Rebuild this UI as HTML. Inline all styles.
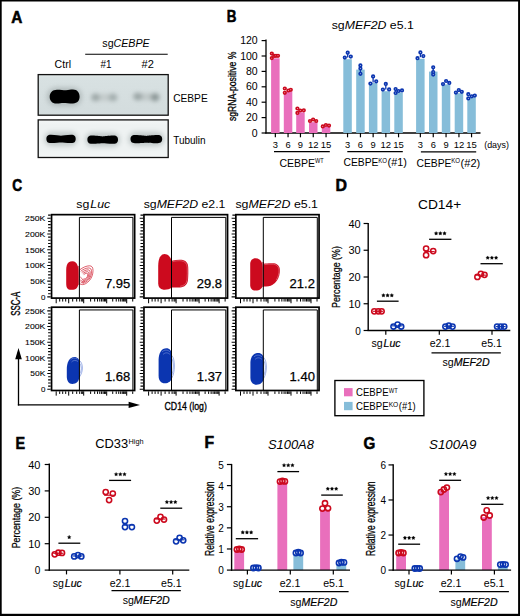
<!DOCTYPE html>
<html><head><meta charset="utf-8"><title>Figure</title>
<style>
html,body{margin:0;padding:0;background:#fff;}
body{width:520px;height:616px;overflow:hidden;}
svg{display:block;}
text{font-family:"Liberation Sans", sans-serif;}
</style></head>
<body>
<svg width="520" height="616" viewBox="0 0 520 616" font-family='"Liberation Sans", sans-serif'>
<rect width="520" height="616" fill="#fff"/>
<rect x="0" y="0" width="520" height="1.5" fill="#000"/>
<rect x="0" y="0" width="1.7" height="616" fill="#000"/>
<rect x="518.1" y="0" width="1.9" height="616" fill="#000"/>
<rect x="0" y="613.8" width="520" height="2.2" fill="#000"/>
<text x="11.2" y="22.6" font-size="15.8" font-weight="bold" textLength="11.1" lengthAdjust="spacingAndGlyphs" stroke="#000" stroke-width="0.55">A</text>
<text x="226.8" y="22.3" font-size="15.8" font-weight="bold" textLength="9.7" lengthAdjust="spacingAndGlyphs" stroke="#000" stroke-width="0.55">B</text>
<text x="12.3" y="190.9" font-size="15.8" font-weight="bold" textLength="9.9" lengthAdjust="spacingAndGlyphs" stroke="#000" stroke-width="0.55">C</text>
<text x="335.4" y="191.2" font-size="15.8" font-weight="bold" textLength="11.5" lengthAdjust="spacingAndGlyphs" stroke="#000" stroke-width="0.55">D</text>
<text x="15.4" y="448.8" font-size="15.8" font-weight="bold" textLength="9.6" lengthAdjust="spacingAndGlyphs" stroke="#000" stroke-width="0.55">E</text>
<text x="204.5" y="447.7" font-size="15.8" font-weight="bold" textLength="9.6" lengthAdjust="spacingAndGlyphs" stroke="#000" stroke-width="0.55">F</text>
<text x="363.5" y="448.6" font-size="15.8" font-weight="bold" textLength="11.8" lengthAdjust="spacingAndGlyphs" stroke="#000" stroke-width="0.55">G</text>
<text x="102.3" y="47" font-size="10.5" textLength="47.4" lengthAdjust="spacingAndGlyphs">sg<tspan font-style="italic">CEBPE</tspan></text>
<line x1="85.2" y1="54.3" x2="167.7" y2="54.3" stroke="#000" stroke-width="1.1"/>
<text x="54.6" y="67.5" font-size="10.2" textLength="16.4" lengthAdjust="spacingAndGlyphs">Ctrl</text>
<text x="100.5" y="67.6" font-size="10.2" textLength="11.0" lengthAdjust="spacingAndGlyphs">#1</text>
<text x="141.5" y="67.6" font-size="10.2" textLength="12.3" lengthAdjust="spacingAndGlyphs">#2</text>
<defs>
<linearGradient id="blotbg" x1="0" y1="0" x2="0" y2="1">
<stop offset="0" stop-color="#e2e9e9"/><stop offset="0.08" stop-color="#d8e1e2"/><stop offset="1" stop-color="#d3dcdd"/>
</linearGradient>
<filter id="blur1" x="-30%" y="-50%" width="160%" height="200%"><feGaussianBlur stdDeviation="0.65"/></filter>
<filter id="blur3" x="-50%" y="-80%" width="200%" height="260%"><feGaussianBlur stdDeviation="2.5"/></filter>
<linearGradient id="blotbg2" x1="0" y1="0" x2="0" y2="1">
<stop offset="0" stop-color="#f3f6f6"/><stop offset="0.15" stop-color="#eef2f2"/><stop offset="0.8" stop-color="#eef2f2"/><stop offset="1" stop-color="#f3f6f6"/>
</linearGradient>
<filter id="blur2" x="-30%" y="-60%" width="160%" height="220%"><feGaussianBlur stdDeviation="2.2"/></filter>
</defs>
<rect x="38.2" y="74.6" width="130" height="40.6" fill="url(#blotbg)" stroke="#111" stroke-width="1.3"/>
<rect x="38.2" y="119.9" width="130" height="37.6" fill="url(#blotbg2)" stroke="#111" stroke-width="1.3"/>
<g filter="url(#blur3)" opacity="0.35"><rect x="47" y="87.5" width="35" height="18.5" rx="9" fill="#6d7777"/></g>
<g filter="url(#blur1)"><path d="M57 89.7 C61 89.7 63 90.3 66 90.3 C69 90.3 70 89.6 73 89.6 C77.5 89.6 79.6 93 79.6 96.6 C79.6 100.5 77.5 103.5 73 103.5 C69 103.5 66 103.0 63.5 103.0 C61 103.0 60 103.6 56.5 103.6 C52 103.6 49.7 100.5 49.7 96.7 C49.7 92.5 52.5 89.7 57 89.7 Z" fill="#030303"/></g>
<g filter="url(#blur2)"><ellipse cx="104.5" cy="97.4" rx="12.5" ry="3.6" fill="#c3cbcb"/><ellipse cx="95.5" cy="97.4" rx="4.4" ry="3.9" fill="#9ea8a8"/><ellipse cx="113.0" cy="97.4" rx="4.4" ry="3.9" fill="#a3adad"/><ellipse cx="146.0" cy="96.9" rx="12.5" ry="3.6" fill="#c0c8c8"/><ellipse cx="137.8" cy="96.6" rx="4.6" ry="3.9" fill="#9aa4a4"/><ellipse cx="155.0" cy="97.2" rx="4.4" ry="4.0" fill="#8c9797"/></g>
<g filter="url(#blur3)" opacity="0.28"><rect x="44.4" y="131.9" width="33.300000000000004" height="14" rx="7" fill="#4a5a5a"/></g>
<g filter="url(#blur1)"><path d="M50.9 134.8 C56.0 134.8 59.0 135.7 61.0 135.7 C63.0 135.7 66.0 134.8 71.2 134.8 C74.7 134.8 75.7 136.7 75.7 138.9 C75.7 141.1 74.7 143.0 71.2 143.0 C66.0 143.0 63.0 142.5 61.0 142.5 C59.0 142.5 56.0 143.0 50.9 143.0 C47.4 143.0 46.4 141.1 46.4 138.9 C46.4 136.7 47.4 134.8 50.9 134.8 Z" fill="#050505"/></g>
<g filter="url(#blur3)" opacity="0.28"><rect x="85.4" y="132.7" width="34.599999999999994" height="14" rx="7" fill="#4a5a5a"/></g>
<g filter="url(#blur1)"><path d="M91.9 135.6 C97.7 135.6 100.7 136.5 102.7 136.5 C104.7 136.5 107.7 135.6 113.5 135.6 C117.0 135.6 118.0 137.5 118.0 139.7 C118.0 141.9 117.0 143.8 113.5 143.8 C107.7 143.8 104.7 143.3 102.7 143.3 C100.7 143.3 97.7 143.8 91.9 143.8 C88.4 143.8 87.4 141.9 87.4 139.7 C87.4 137.5 88.4 135.6 91.9 135.6 Z" fill="#050505"/></g>
<g filter="url(#blur3)" opacity="0.28"><rect x="128.5" y="132.1" width="35.69999999999999" height="14" rx="7" fill="#4a5a5a"/></g>
<g filter="url(#blur1)"><path d="M135.0 135.0 C141.3 135.0 144.3 135.9 146.3 135.9 C148.3 135.9 151.3 135.0 157.7 135.0 C161.2 135.0 162.2 136.9 162.2 139.1 C162.2 141.3 161.2 143.2 157.7 143.2 C151.3 143.2 148.3 142.7 146.3 142.7 C144.3 142.7 141.3 143.2 135.0 143.2 C131.5 143.2 130.5 141.3 130.5 139.1 C130.5 136.9 131.5 135.0 135.0 135.0 Z" fill="#050505"/></g>
<text x="173.2" y="101.6" font-size="10.4" textLength="34.5" lengthAdjust="spacingAndGlyphs">CEBPE</text>
<text x="173.2" y="143.5" font-size="10.4" textLength="32.4" lengthAdjust="spacingAndGlyphs">Tubulin</text>
<text x="331.7" y="28.8" font-size="11.8" textLength="82.1" lengthAdjust="spacingAndGlyphs">sg<tspan font-style="italic">MEF2D</tspan> e5.1</text>
<text transform="translate(235.5,121.1) rotate(-90)" font-size="10.8" stroke="#000" stroke-width="0.3" textLength="69.4" lengthAdjust="spacingAndGlyphs">sgRNA-positive %</text>
<line x1="266.0" y1="39.6" x2="266.0" y2="133.6" stroke="#000" stroke-width="1.3"/>
<line x1="261.6" y1="133.0" x2="266" y2="133.0" stroke="#000" stroke-width="1.2"/>
<text x="257.7" y="136.6" font-size="10.3" text-anchor="end" textLength="5.85" lengthAdjust="spacingAndGlyphs">0</text>
<line x1="261.6" y1="117.6" x2="266" y2="117.6" stroke="#000" stroke-width="1.2"/>
<text x="257.7" y="121.19999999999999" font-size="10.3" text-anchor="end" textLength="11.7" lengthAdjust="spacingAndGlyphs">20</text>
<line x1="261.6" y1="102.2" x2="266" y2="102.2" stroke="#000" stroke-width="1.2"/>
<text x="257.7" y="105.8" font-size="10.3" text-anchor="end" textLength="11.7" lengthAdjust="spacingAndGlyphs">40</text>
<line x1="261.6" y1="86.8" x2="266" y2="86.8" stroke="#000" stroke-width="1.2"/>
<text x="257.7" y="90.39999999999999" font-size="10.3" text-anchor="end" textLength="11.7" lengthAdjust="spacingAndGlyphs">60</text>
<line x1="261.6" y1="71.4" x2="266" y2="71.4" stroke="#000" stroke-width="1.2"/>
<text x="257.7" y="75.0" font-size="10.3" text-anchor="end" textLength="11.7" lengthAdjust="spacingAndGlyphs">80</text>
<line x1="261.6" y1="56.0" x2="266" y2="56.0" stroke="#000" stroke-width="1.2"/>
<text x="257.7" y="59.6" font-size="10.3" text-anchor="end" textLength="17.549999999999997" lengthAdjust="spacingAndGlyphs">100</text>
<line x1="261.6" y1="40.599999999999994" x2="266" y2="40.599999999999994" stroke="#000" stroke-width="1.2"/>
<text x="257.7" y="44.199999999999996" font-size="10.3" text-anchor="end" textLength="17.549999999999997" lengthAdjust="spacingAndGlyphs">120</text>
<line x1="265.4" y1="133.0" x2="480.5" y2="133.0" stroke="#000" stroke-width="1.4"/>
<rect x="271.1" y="58.3" width="8.5" height="74.7" fill="#e96fbc"/>
<line x1="275.35" y1="133.0" x2="275.35" y2="137.3" stroke="#000" stroke-width="1.2"/>
<rect x="283.8" y="91.4" width="8.5" height="41.6" fill="#e96fbc"/>
<line x1="288.05" y1="133.0" x2="288.05" y2="137.3" stroke="#000" stroke-width="1.2"/>
<rect x="296.2" y="112.3" width="8.5" height="20.7" fill="#e96fbc"/>
<line x1="300.45" y1="133.0" x2="300.45" y2="137.3" stroke="#000" stroke-width="1.2"/>
<rect x="309.0" y="122.2" width="8.5" height="10.8" fill="#e96fbc"/>
<line x1="313.25" y1="133.0" x2="313.25" y2="137.3" stroke="#000" stroke-width="1.2"/>
<rect x="321.8" y="126.5" width="8.5" height="6.5" fill="#e96fbc"/>
<line x1="326.05" y1="133.0" x2="326.05" y2="137.3" stroke="#000" stroke-width="1.2"/>
<rect x="343.3" y="59.2" width="8.5" height="73.8" fill="#86bdd9"/>
<line x1="347.55" y1="133.0" x2="347.55" y2="137.3" stroke="#000" stroke-width="1.2"/>
<rect x="356.2" y="69.6" width="8.5" height="63.4" fill="#86bdd9"/>
<line x1="360.45" y1="133.0" x2="360.45" y2="137.3" stroke="#000" stroke-width="1.2"/>
<rect x="368.9" y="83.0" width="8.5" height="50.0" fill="#86bdd9"/>
<line x1="373.15" y1="133.0" x2="373.15" y2="137.3" stroke="#000" stroke-width="1.2"/>
<rect x="381.6" y="91.2" width="8.5" height="41.8" fill="#86bdd9"/>
<line x1="385.85" y1="133.0" x2="385.85" y2="137.3" stroke="#000" stroke-width="1.2"/>
<rect x="394.3" y="92.5" width="8.5" height="40.5" fill="#86bdd9"/>
<line x1="398.55" y1="133.0" x2="398.55" y2="137.3" stroke="#000" stroke-width="1.2"/>
<rect x="416.1" y="58.8" width="8.5" height="74.2" fill="#86bdd9"/>
<line x1="420.35" y1="133.0" x2="420.35" y2="137.3" stroke="#000" stroke-width="1.2"/>
<rect x="429.0" y="71.6" width="8.5" height="61.4" fill="#86bdd9"/>
<line x1="433.25" y1="133.0" x2="433.25" y2="137.3" stroke="#000" stroke-width="1.2"/>
<rect x="441.8" y="84.4" width="8.5" height="48.6" fill="#86bdd9"/>
<line x1="446.05" y1="133.0" x2="446.05" y2="137.3" stroke="#000" stroke-width="1.2"/>
<rect x="454.7" y="93.2" width="8.5" height="39.8" fill="#86bdd9"/>
<line x1="458.95" y1="133.0" x2="458.95" y2="137.3" stroke="#000" stroke-width="1.2"/>
<rect x="467.3" y="97.2" width="8.5" height="35.8" fill="#86bdd9"/>
<line x1="471.55" y1="133.0" x2="471.55" y2="137.3" stroke="#000" stroke-width="1.2"/>
<text x="275.35" y="148.1" font-size="9.8" text-anchor="middle" textLength="5.2" lengthAdjust="spacingAndGlyphs">3</text>
<text x="288.05" y="148.1" font-size="9.8" text-anchor="middle" textLength="5.2" lengthAdjust="spacingAndGlyphs">6</text>
<text x="300.45" y="148.1" font-size="9.8" text-anchor="middle" textLength="5.2" lengthAdjust="spacingAndGlyphs">9</text>
<text x="313.25" y="148.1" font-size="9.8" text-anchor="middle" textLength="10.6" lengthAdjust="spacingAndGlyphs">12</text>
<text x="326.05" y="148.1" font-size="9.8" text-anchor="middle" textLength="10.6" lengthAdjust="spacingAndGlyphs">15</text>
<text x="347.55" y="148.1" font-size="9.8" text-anchor="middle" textLength="5.2" lengthAdjust="spacingAndGlyphs">3</text>
<text x="360.45" y="148.1" font-size="9.8" text-anchor="middle" textLength="5.2" lengthAdjust="spacingAndGlyphs">6</text>
<text x="373.15" y="148.1" font-size="9.8" text-anchor="middle" textLength="5.2" lengthAdjust="spacingAndGlyphs">9</text>
<text x="385.85" y="148.1" font-size="9.8" text-anchor="middle" textLength="10.6" lengthAdjust="spacingAndGlyphs">12</text>
<text x="398.55" y="148.1" font-size="9.8" text-anchor="middle" textLength="10.6" lengthAdjust="spacingAndGlyphs">15</text>
<text x="420.35" y="148.1" font-size="9.8" text-anchor="middle" textLength="5.2" lengthAdjust="spacingAndGlyphs">3</text>
<text x="433.25" y="148.1" font-size="9.8" text-anchor="middle" textLength="5.2" lengthAdjust="spacingAndGlyphs">6</text>
<text x="446.05" y="148.1" font-size="9.8" text-anchor="middle" textLength="5.2" lengthAdjust="spacingAndGlyphs">9</text>
<text x="458.95" y="148.1" font-size="9.8" text-anchor="middle" textLength="10.6" lengthAdjust="spacingAndGlyphs">12</text>
<text x="471.55" y="148.1" font-size="9.8" text-anchor="middle" textLength="10.6" lengthAdjust="spacingAndGlyphs">15</text>
<line x1="274.0" y1="151.6" x2="329.8" y2="151.6" stroke="#000" stroke-width="1.3"/>
<line x1="347.3" y1="151.6" x2="402.8" y2="151.6" stroke="#000" stroke-width="1.3"/>
<line x1="420.9" y1="151.8" x2="476.2" y2="151.8" stroke="#000" stroke-width="1.3"/>
<text x="484.2" y="148.2" font-size="9.8" textLength="24.7" lengthAdjust="spacingAndGlyphs">(days)</text>
<text x="279.4" y="166.6" font-size="10.6" textLength="35.7" lengthAdjust="spacingAndGlyphs">CEBPE</text>
<text x="315.1" y="163.2" font-size="6.8" textLength="8.7" lengthAdjust="spacingAndGlyphs">WT</text>
<text x="343.5" y="166.4" font-size="10.6" textLength="35.0" lengthAdjust="spacingAndGlyphs">CEBPE</text>
<text x="378.3" y="163.2" font-size="6.8" textLength="8.8" lengthAdjust="spacingAndGlyphs">KO</text>
<text x="387.6" y="166.4" font-size="10.6" textLength="19.3" lengthAdjust="spacingAndGlyphs">(#1)</text>
<text x="416.5" y="166.6" font-size="10.6" textLength="35.0" lengthAdjust="spacingAndGlyphs">CEBPE</text>
<text x="451.3" y="163.4" font-size="6.8" textLength="8.8" lengthAdjust="spacingAndGlyphs">KO</text>
<text x="460.6" y="166.6" font-size="10.6" textLength="19.6" lengthAdjust="spacingAndGlyphs">(#2)</text>
<circle cx="271.80" cy="53.60" r="1.3" fill="#fff" stroke="#cc0a1e" stroke-width="1.65"/>
<circle cx="271.80" cy="58.10" r="1.3" fill="#fff" stroke="#cc0a1e" stroke-width="1.65"/>
<circle cx="274.20" cy="55.90" r="1.3" fill="#fff" stroke="#cc0a1e" stroke-width="1.65"/>
<circle cx="276.00" cy="55.80" r="1.3" fill="#fff" stroke="#cc0a1e" stroke-width="1.65"/>
<circle cx="278.00" cy="55.80" r="1.3" fill="#fff" stroke="#cc0a1e" stroke-width="1.65"/>
<circle cx="284.80" cy="88.50" r="1.3" fill="#fff" stroke="#cc0a1e" stroke-width="1.65"/>
<circle cx="284.80" cy="92.80" r="1.3" fill="#fff" stroke="#cc0a1e" stroke-width="1.65"/>
<circle cx="288.40" cy="90.50" r="1.3" fill="#fff" stroke="#cc0a1e" stroke-width="1.65"/>
<circle cx="290.80" cy="89.80" r="1.3" fill="#fff" stroke="#cc0a1e" stroke-width="1.65"/>
<circle cx="297.40" cy="108.50" r="1.3" fill="#fff" stroke="#cc0a1e" stroke-width="1.65"/>
<circle cx="297.40" cy="112.90" r="1.3" fill="#fff" stroke="#cc0a1e" stroke-width="1.65"/>
<circle cx="300.20" cy="110.50" r="1.3" fill="#fff" stroke="#cc0a1e" stroke-width="1.65"/>
<circle cx="303.80" cy="110.30" r="1.3" fill="#fff" stroke="#cc0a1e" stroke-width="1.65"/>
<circle cx="310.00" cy="121.00" r="1.3" fill="#fff" stroke="#cc0a1e" stroke-width="1.65"/>
<circle cx="313.10" cy="119.50" r="1.3" fill="#fff" stroke="#cc0a1e" stroke-width="1.65"/>
<circle cx="316.20" cy="121.00" r="1.3" fill="#fff" stroke="#cc0a1e" stroke-width="1.65"/>
<circle cx="322.80" cy="126.40" r="1.3" fill="#fff" stroke="#cc0a1e" stroke-width="1.65"/>
<circle cx="325.90" cy="125.00" r="1.3" fill="#fff" stroke="#cc0a1e" stroke-width="1.65"/>
<circle cx="329.00" cy="125.60" r="1.3" fill="#fff" stroke="#cc0a1e" stroke-width="1.65"/>
<line x1="347.7" y1="52.7" x2="347.7" y2="57.5" stroke="#0b35b0" stroke-width="1.3"/>
<circle cx="344.80" cy="57.60" r="1.3" fill="#fff" stroke="#0b35b0" stroke-width="1.65"/>
<circle cx="350.80" cy="56.50" r="1.3" fill="#fff" stroke="#0b35b0" stroke-width="1.65"/>
<circle cx="347.70" cy="52.70" r="1.3" fill="#fff" stroke="#0b35b0" stroke-width="1.65"/>
<line x1="360.4" y1="65.4" x2="360.4" y2="73.8" stroke="#0b35b0" stroke-width="1.3"/>
<circle cx="360.40" cy="73.80" r="1.3" fill="#fff" stroke="#0b35b0" stroke-width="1.65"/>
<circle cx="360.40" cy="68.40" r="1.3" fill="#fff" stroke="#0b35b0" stroke-width="1.65"/>
<circle cx="360.40" cy="65.40" r="1.3" fill="#fff" stroke="#0b35b0" stroke-width="1.65"/>
<line x1="373.1" y1="76.4" x2="373.1" y2="82.5" stroke="#0b35b0" stroke-width="1.3"/>
<circle cx="370.40" cy="83.60" r="1.3" fill="#fff" stroke="#0b35b0" stroke-width="1.65"/>
<circle cx="376.20" cy="81.30" r="1.3" fill="#fff" stroke="#0b35b0" stroke-width="1.65"/>
<circle cx="373.10" cy="76.40" r="1.3" fill="#fff" stroke="#0b35b0" stroke-width="1.65"/>
<line x1="385.8" y1="83.9" x2="385.8" y2="89.5" stroke="#0b35b0" stroke-width="1.3"/>
<circle cx="382.90" cy="89.60" r="1.3" fill="#fff" stroke="#0b35b0" stroke-width="1.65"/>
<circle cx="389.10" cy="89.40" r="1.3" fill="#fff" stroke="#0b35b0" stroke-width="1.65"/>
<circle cx="385.80" cy="83.90" r="1.3" fill="#fff" stroke="#0b35b0" stroke-width="1.65"/>
<circle cx="395.60" cy="89.10" r="1.3" fill="#fff" stroke="#0b35b0" stroke-width="1.65"/>
<circle cx="395.60" cy="93.00" r="1.3" fill="#fff" stroke="#0b35b0" stroke-width="1.65"/>
<circle cx="398.60" cy="91.00" r="1.3" fill="#fff" stroke="#0b35b0" stroke-width="1.65"/>
<circle cx="402.00" cy="90.40" r="1.3" fill="#fff" stroke="#0b35b0" stroke-width="1.65"/>
<line x1="420.4" y1="52.4" x2="420.4" y2="57.2" stroke="#0b35b0" stroke-width="1.3"/>
<circle cx="417.50" cy="58.20" r="1.3" fill="#fff" stroke="#0b35b0" stroke-width="1.65"/>
<circle cx="423.30" cy="56.00" r="1.3" fill="#fff" stroke="#0b35b0" stroke-width="1.65"/>
<circle cx="420.40" cy="52.40" r="1.3" fill="#fff" stroke="#0b35b0" stroke-width="1.65"/>
<line x1="433.2" y1="67.3" x2="433.2" y2="74.6" stroke="#0b35b0" stroke-width="1.3"/>
<circle cx="433.20" cy="74.60" r="1.3" fill="#fff" stroke="#0b35b0" stroke-width="1.65"/>
<circle cx="433.20" cy="72.00" r="1.3" fill="#fff" stroke="#0b35b0" stroke-width="1.65"/>
<circle cx="433.20" cy="67.30" r="1.3" fill="#fff" stroke="#0b35b0" stroke-width="1.65"/>
<circle cx="443.00" cy="84.10" r="1.3" fill="#fff" stroke="#0b35b0" stroke-width="1.65"/>
<circle cx="449.30" cy="82.90" r="1.3" fill="#fff" stroke="#0b35b0" stroke-width="1.65"/>
<circle cx="446.10" cy="81.00" r="1.3" fill="#fff" stroke="#0b35b0" stroke-width="1.65"/>
<circle cx="455.90" cy="92.60" r="1.3" fill="#fff" stroke="#0b35b0" stroke-width="1.65"/>
<circle cx="461.80" cy="91.80" r="1.3" fill="#fff" stroke="#0b35b0" stroke-width="1.65"/>
<circle cx="458.80" cy="90.10" r="1.3" fill="#fff" stroke="#0b35b0" stroke-width="1.65"/>
<circle cx="468.30" cy="94.20" r="1.3" fill="#fff" stroke="#0b35b0" stroke-width="1.65"/>
<circle cx="468.30" cy="98.40" r="1.3" fill="#fff" stroke="#0b35b0" stroke-width="1.65"/>
<circle cx="471.80" cy="96.30" r="1.3" fill="#fff" stroke="#0b35b0" stroke-width="1.65"/>
<circle cx="474.80" cy="95.60" r="1.3" fill="#fff" stroke="#0b35b0" stroke-width="1.65"/>
<text x="76.3" y="207.5" font-size="11" textLength="33.9" lengthAdjust="spacingAndGlyphs">sg<tspan dx="0.9" font-style="italic">Luc</tspan></text>
<text x="143.7" y="207.7" font-size="11" textLength="81.7" lengthAdjust="spacingAndGlyphs">sg<tspan font-style="italic">MEF2D</tspan> e2.1</text>
<text x="235.4" y="207.7" font-size="11" textLength="82.6" lengthAdjust="spacingAndGlyphs">sg<tspan font-style="italic">MEF2D</tspan> e5.1</text>
<path d="M72.4 261.2 C75 261.2 76.9 263 77.6 265.5 C78.3 268 78.4 271 78.4 275 L78.4 283 C78.3 286.5 77 288.8 74.5 289.5 C72.5 290.1 69.5 290 68 289 C66.5 287.8 66.2 286 66.2 283 L66.2 270 C66.2 266.5 67 263.5 68.8 262.2 C69.8 261.5 71 261.2 72.4 261.2 Z" fill="#cc0a1e"/>
<path d="M77.2 266 L79.5 266 L79.5 285 L77.2 285 Z" fill="#cc0a1e" opacity="0.55"/>
<path d="M79.5 270 C82.5 267.5 86.5 265.8 89.5 265.8 C92 265.8 93 267.5 93 270.5 C93 274 92 277.5 89.5 280.5 C87 283.2 84.5 284.6 82.5 284.6 C80.8 284.6 79.5 283.8 79.5 283" transform="translate(85.5 276.5) scale(1.0) translate(-85.5 -276.5)" fill="none" stroke="#cc0a1e" stroke-width="0.65" vector-effect="non-scaling-stroke"/>
<path d="M79.5 270 C82.5 267.5 86.5 265.8 89.5 265.8 C92 265.8 93 267.5 93 270.5 C93 274 92 277.5 89.5 280.5 C87 283.2 84.5 284.6 82.5 284.6 C80.8 284.6 79.5 283.8 79.5 283" transform="translate(85.5 276.5) scale(0.8) translate(-85.5 -276.5)" fill="none" stroke="#cc0a1e" stroke-width="0.65" vector-effect="non-scaling-stroke"/>
<path d="M79.5 270 C82.5 267.5 86.5 265.8 89.5 265.8 C92 265.8 93 267.5 93 270.5 C93 274 92 277.5 89.5 280.5 C87 283.2 84.5 284.6 82.5 284.6 C80.8 284.6 79.5 283.8 79.5 283" transform="translate(85.5 276.5) scale(0.62) translate(-85.5 -276.5)" fill="none" stroke="#cc0a1e" stroke-width="0.65" vector-effect="non-scaling-stroke"/>
<path d="M79.5 270 C82.5 267.5 86.5 265.8 89.5 265.8 C92 265.8 93 267.5 93 270.5 C93 274 92 277.5 89.5 280.5 C87 283.2 84.5 284.6 82.5 284.6 C80.8 284.6 79.5 283.8 79.5 283" transform="translate(85.5 276.5) scale(0.45) translate(-85.5 -276.5)" fill="none" stroke="#cc0a1e" stroke-width="0.65" vector-effect="non-scaling-stroke"/>
<path d="M79.5 270 C82.5 267.5 86.5 265.8 89.5 265.8 C92 265.8 93 267.5 93 270.5 C93 274 92 277.5 89.5 280.5 C87 283.2 84.5 284.6 82.5 284.6 C80.8 284.6 79.5 283.8 79.5 283" transform="translate(85.5 276.5) scale(0.3) translate(-85.5 -276.5)" fill="none" stroke="#cc0a1e" stroke-width="0.65" vector-effect="non-scaling-stroke"/>
<path d="M80 276.5 C81.5 278 83 280.5 85 281.5 M80 279.5 C81.5 281 82.5 282.5 84 283.2" fill="none" stroke="#cc0a1e" stroke-width="0.6"/>
<path d="M164.5 254.1 C168.2 254.1 171 257.5 171.9 262 L171.9 287.6 C169.5 289.4 166.5 289.9 163.5 289.7 C160 289.4 158.3 287.2 158.2 283.5 L158.2 266 C158.2 259 160.5 254.1 164.5 254.1 Z" fill="#cc0a1e"/>
<path d="M171.9 260.8 C175 259.9 178.5 259.6 181.5 259.8 C185.5 260.2 188.1 262.8 188.2 267 C188.4 271 188.4 276 188 280 C187.5 284.5 184.5 287.2 180 287.4 C177 287.5 174 287.6 171.9 287.6 Z" fill="#cc0a1e"/>
<path d="M172.5 261.7 C175.5 260.8 178.5 260.6 181.3 260.8 C184.8 261.2 187.1 263.5 187.2 267.2 C187.4 271 187.4 276 187 279.8 C186.6 283.6 184 286 180.2 286.3" fill="none" stroke="#f0a0aa" stroke-width="0.45"/>
<path d="M255.5 258.2 C258.5 258.2 260.9 259.8 261.8 262.5 C262.4 264.5 262.6 267 262.6 270 L262.6 285 C262.4 288.5 260 290.5 255.5 290.5 C252 290.5 250.2 288.5 250.2 285 L250.2 264 C250.2 260.5 252.3 258.2 255.5 258.2 Z" fill="#cc0a1e"/>
<path d="M263.6 263.8 C266.5 263.2 271 263 274 263.3 C277.5 263.8 279.8 266.5 279.9 270 C280 273.5 279 277.5 276.8 280.8 C274.5 284 271.5 285.8 268.5 286.3 C266.8 286.5 265 286.6 263.6 286.6 Z" fill="#cc0a1e"/>
<path d="M264.3 264.6 C267 264.1 271 263.9 273.8 264.2 C276.9 264.7 278.9 267 279 270 C279.1 273.3 278.2 277 276.1 280.2" fill="none" stroke="#f0a0aa" stroke-width="0.45"/>
<path d="M262.5 262 L263.8 262 L263.8 287 L262.5 287 Z" fill="#cc0a1e"/>
<path d="M74.5 357 C77.5 357 79.4 359.5 79.4 362 L79.4 377 C79 381.5 76 383.9 72.3 383.9 C68.8 383.9 66.8 381 66.8 376.5 L66.8 369 C66.8 362 69.5 357 74.5 357 Z" fill="#0b35b0"/>
<path d="M166.5 348.3 C169.5 348.3 171.8 351 171.8 355 L171.8 377 C171.8 381 168.5 383.3 164.8 383.3 C161 383.3 158.6 380.5 158.6 376 L158.6 360 C158.6 353 161.5 348.3 166.5 348.3 Z" fill="#0b35b0"/>
<path d="M258.3 353 C261.5 353 263.7 355.5 263.7 359 L263.7 378 C263.5 382 260.5 384.7 256.6 384.7 C252.8 384.7 250.4 382 250.4 377.5 L250.4 363 C250.4 357 253.5 353 258.3 353 Z" fill="#0b35b0"/>
<path d="M79.4 360.5 C81.5 362 82.4 365 82.4 368 C82.4 371.5 81.2 374.5 79.4 377" fill="none" stroke="#5f7fd8" stroke-width="0.6"/>
<path d="M79.4 363 C80.7 364.5 81.3 366.5 81.3 368.5 C81.3 370.5 80.6 372.5 79.4 374" fill="none" stroke="#5f7fd8" stroke-width="0.6"/>
<path d="M171.8 355.5 C173.5 357.5 174.4 361 174.4 366 C174.4 371 173.5 375 171.8 378" fill="none" stroke="#5f7fd8" stroke-width="0.6"/>
<path d="M171.8 358.5 C172.9 360.5 173.3 363 173.3 366 C173.3 369.5 172.8 372.5 171.8 375" fill="none" stroke="#5f7fd8" stroke-width="0.6"/>
<path d="M263.7 357.5 C265.5 359.5 266.4 363 266.4 367 C266.4 371.5 265.3 375.5 263.7 378.5" fill="none" stroke="#5f7fd8" stroke-width="0.6"/>
<path d="M263.7 360.5 C264.8 362.5 265.3 365 265.3 367.5 C265.3 370.5 264.7 373.5 263.7 375.5" fill="none" stroke="#5f7fd8" stroke-width="0.6"/>
<path d="M70.5 360 C72 357.8 75 357.5 77.5 359 M71.5 362 C73 360 76 360 78 361.5" fill="none" stroke="#8aa0e0" stroke-width="0.5"/>
<path d="M162 352 C164 349.5 168 349.5 170 352 M163 354.5 C165 352.3 168 352.3 170 354.5" fill="none" stroke="#8aa0e0" stroke-width="0.5"/>
<path d="M254 357 C256 354.5 260 354.5 262 357 M255 359.5 C257 357.3 260 357.3 262 359.5" fill="none" stroke="#8aa0e0" stroke-width="0.5"/>
<rect x="51.550000000000004" y="214.65" width="83.1" height="83.44999999999997" fill="none" stroke="#000" stroke-width="1.7"/>
<path d="M48.10 215.16H50.7 M47.30 218.30H50.7 M48.10 221.44H50.7 M48.10 224.58H50.7 M48.10 227.73H50.7 M48.10 230.87H50.7 M47.30 234.01H50.7 M48.10 237.15H50.7 M48.10 240.29H50.7 M48.10 243.44H50.7 M48.10 246.58H50.7 M47.30 249.72H50.7 M48.10 252.86H50.7 M48.10 256.00H50.7 M48.10 259.15H50.7 M48.10 262.29H50.7 M47.30 265.43H50.7 M48.10 268.57H50.7 M48.10 271.71H50.7 M48.10 274.86H50.7 M48.10 278.00H50.7 M47.30 281.14H50.7 M48.10 284.28H50.7 M48.10 287.42H50.7 M48.10 290.57H50.7 M48.10 293.71H50.7 M47.30 296.85H50.7" stroke="#000" stroke-width="1.1"/>
<path d="M56.20 298.95V303.25 M68.70 298.95V303.25 M83.70 298.95V303.25 M106.70 298.95V303.25 M126.70 298.95V303.25 M59.70 298.95V301.55 M62.70 298.95V301.55 M65.70 298.95V301.55 M72.70 298.95V301.55 M76.70 298.95V301.55 M79.70 298.95V301.55 M81.70 298.95V301.55 M82.70 298.95V301.55 M90.62 298.95V301.55 M94.67 298.95V301.55 M97.55 298.95V301.55 M99.78 298.95V301.55 M101.60 298.95V301.55 M103.14 298.95V301.55 M104.47 298.95V301.55 M105.65 298.95V301.55 M112.72 298.95V301.55 M116.24 298.95V301.55 M118.74 298.95V301.55 M120.68 298.95V301.55 M122.26 298.95V301.55 M123.60 298.95V301.55 M124.76 298.95V301.55 M125.78 298.95V301.55 M132.72 298.95V301.55" stroke="#000" stroke-width="1.0"/>
<path d="M79.4 297.95V217.4H132.9V297.95" fill="none" stroke="#000" stroke-width="1.0"/>
<text x="130.2" y="288.2" font-size="12.2" text-anchor="end" textLength="25.3" lengthAdjust="spacingAndGlyphs" stroke="#000" stroke-width="0.25">7.95</text>
<text x="45.300000000000004" y="221.15" font-size="8.0" text-anchor="end" textLength="20.2" lengthAdjust="spacingAndGlyphs" stroke="#000" stroke-width="0.1">250K</text>
<text x="45.300000000000004" y="236.86" font-size="8.0" text-anchor="end" textLength="20.2" lengthAdjust="spacingAndGlyphs" stroke="#000" stroke-width="0.1">200K</text>
<text x="45.300000000000004" y="252.57" font-size="8.0" text-anchor="end" textLength="20.2" lengthAdjust="spacingAndGlyphs" stroke="#000" stroke-width="0.1">150K</text>
<text x="45.300000000000004" y="268.28000000000003" font-size="8.0" text-anchor="end" textLength="20.2" lengthAdjust="spacingAndGlyphs" stroke="#000" stroke-width="0.1">100K</text>
<text x="45.300000000000004" y="283.99" font-size="8.0" text-anchor="end" textLength="15.0" lengthAdjust="spacingAndGlyphs" stroke="#000" stroke-width="0.1">50K</text>
<text x="45.300000000000004" y="299.70000000000005" font-size="8.0" text-anchor="end" textLength="4.4" lengthAdjust="spacingAndGlyphs" stroke="#000" stroke-width="0.1">0</text>
<rect x="143.95" y="214.65" width="83.60000000000001" height="83.44999999999997" fill="none" stroke="#000" stroke-width="1.7"/>
<path d="M140.50 215.16H143.1 M139.70 218.30H143.1 M140.50 221.44H143.1 M140.50 224.58H143.1 M140.50 227.73H143.1 M140.50 230.87H143.1 M139.70 234.01H143.1 M140.50 237.15H143.1 M140.50 240.29H143.1 M140.50 243.44H143.1 M140.50 246.58H143.1 M139.70 249.72H143.1 M140.50 252.86H143.1 M140.50 256.00H143.1 M140.50 259.15H143.1 M140.50 262.29H143.1 M139.70 265.43H143.1 M140.50 268.57H143.1 M140.50 271.71H143.1 M140.50 274.86H143.1 M140.50 278.00H143.1 M139.70 281.14H143.1 M140.50 284.28H143.1 M140.50 287.42H143.1 M140.50 290.57H143.1 M140.50 293.71H143.1 M139.70 296.85H143.1" stroke="#000" stroke-width="1.1"/>
<path d="M148.60 298.95V303.25 M161.10 298.95V303.25 M176.10 298.95V303.25 M199.10 298.95V303.25 M219.10 298.95V303.25 M152.10 298.95V301.55 M155.10 298.95V301.55 M158.10 298.95V301.55 M165.10 298.95V301.55 M169.10 298.95V301.55 M172.10 298.95V301.55 M174.10 298.95V301.55 M175.10 298.95V301.55 M183.02 298.95V301.55 M187.07 298.95V301.55 M189.95 298.95V301.55 M192.18 298.95V301.55 M194.00 298.95V301.55 M195.54 298.95V301.55 M196.87 298.95V301.55 M198.05 298.95V301.55 M205.12 298.95V301.55 M208.64 298.95V301.55 M211.14 298.95V301.55 M213.08 298.95V301.55 M214.66 298.95V301.55 M216.00 298.95V301.55 M217.16 298.95V301.55 M218.18 298.95V301.55 M225.12 298.95V301.55" stroke="#000" stroke-width="1.0"/>
<path d="M171.5 297.95V217.4H225.8V297.95" fill="none" stroke="#000" stroke-width="1.0"/>
<text x="222.1" y="288.2" font-size="12.2" text-anchor="end" textLength="25.3" lengthAdjust="spacingAndGlyphs" stroke="#000" stroke-width="0.25">29.8</text>
<rect x="235.85" y="214.65" width="83.19999999999997" height="83.44999999999997" fill="none" stroke="#000" stroke-width="1.7"/>
<path d="M232.40 215.16H235.0 M231.60 218.30H235.0 M232.40 221.44H235.0 M232.40 224.58H235.0 M232.40 227.73H235.0 M232.40 230.87H235.0 M231.60 234.01H235.0 M232.40 237.15H235.0 M232.40 240.29H235.0 M232.40 243.44H235.0 M232.40 246.58H235.0 M231.60 249.72H235.0 M232.40 252.86H235.0 M232.40 256.00H235.0 M232.40 259.15H235.0 M232.40 262.29H235.0 M231.60 265.43H235.0 M232.40 268.57H235.0 M232.40 271.71H235.0 M232.40 274.86H235.0 M232.40 278.00H235.0 M231.60 281.14H235.0 M232.40 284.28H235.0 M232.40 287.42H235.0 M232.40 290.57H235.0 M232.40 293.71H235.0 M231.60 296.85H235.0" stroke="#000" stroke-width="1.1"/>
<path d="M240.50 298.95V303.25 M253.00 298.95V303.25 M268.00 298.95V303.25 M291.00 298.95V303.25 M311.00 298.95V303.25 M244.00 298.95V301.55 M247.00 298.95V301.55 M250.00 298.95V301.55 M257.00 298.95V301.55 M261.00 298.95V301.55 M264.00 298.95V301.55 M266.00 298.95V301.55 M267.00 298.95V301.55 M274.92 298.95V301.55 M278.97 298.95V301.55 M281.85 298.95V301.55 M284.08 298.95V301.55 M285.90 298.95V301.55 M287.44 298.95V301.55 M288.77 298.95V301.55 M289.95 298.95V301.55 M297.02 298.95V301.55 M300.54 298.95V301.55 M303.04 298.95V301.55 M304.98 298.95V301.55 M306.56 298.95V301.55 M307.90 298.95V301.55 M309.06 298.95V301.55 M310.08 298.95V301.55 M317.02 298.95V301.55" stroke="#000" stroke-width="1.0"/>
<path d="M263.3 297.95V217.4H317.29999999999995V297.95" fill="none" stroke="#000" stroke-width="1.0"/>
<text x="314.9" y="288.2" font-size="12.2" text-anchor="end" textLength="25.3" lengthAdjust="spacingAndGlyphs" stroke="#000" stroke-width="0.25">21.2</text>
<rect x="51.550000000000004" y="307.20000000000005" width="83.1" height="83.3" fill="none" stroke="#000" stroke-width="1.7"/>
<path d="M48.10 307.71H50.7 M47.30 310.85H50.7 M48.10 313.99H50.7 M48.10 317.12H50.7 M48.10 320.26H50.7 M48.10 323.39H50.7 M47.30 326.53H50.7 M48.10 329.67H50.7 M48.10 332.80H50.7 M48.10 335.94H50.7 M48.10 339.07H50.7 M47.30 342.21H50.7 M48.10 345.35H50.7 M48.10 348.48H50.7 M48.10 351.62H50.7 M48.10 354.75H50.7 M47.30 357.89H50.7 M48.10 361.03H50.7 M48.10 364.16H50.7 M48.10 367.30H50.7 M48.10 370.43H50.7 M47.30 373.57H50.7 M48.10 376.71H50.7 M48.10 379.84H50.7 M48.10 382.98H50.7 M48.10 386.11H50.7 M47.30 389.25H50.7" stroke="#000" stroke-width="1.1"/>
<path d="M56.20 391.35V395.65 M68.70 391.35V395.65 M83.70 391.35V395.65 M106.70 391.35V395.65 M126.70 391.35V395.65 M59.70 391.35V393.95 M62.70 391.35V393.95 M65.70 391.35V393.95 M72.70 391.35V393.95 M76.70 391.35V393.95 M79.70 391.35V393.95 M81.70 391.35V393.95 M82.70 391.35V393.95 M90.62 391.35V393.95 M94.67 391.35V393.95 M97.55 391.35V393.95 M99.78 391.35V393.95 M101.60 391.35V393.95 M103.14 391.35V393.95 M104.47 391.35V393.95 M105.65 391.35V393.95 M112.72 391.35V393.95 M116.24 391.35V393.95 M118.74 391.35V393.95 M120.68 391.35V393.95 M122.26 391.35V393.95 M123.60 391.35V393.95 M124.76 391.35V393.95 M125.78 391.35V393.95 M132.72 391.35V393.95" stroke="#000" stroke-width="1.0"/>
<path d="M79.4 390.35V309.95000000000005H132.9V390.35" fill="none" stroke="#000" stroke-width="1.0"/>
<text x="130.2" y="381.2" font-size="12.2" text-anchor="end" textLength="25.3" lengthAdjust="spacingAndGlyphs" stroke="#000" stroke-width="0.25">1.68</text>
<text x="45.300000000000004" y="313.70000000000005" font-size="8.0" text-anchor="end" textLength="20.2" lengthAdjust="spacingAndGlyphs" stroke="#000" stroke-width="0.1">250K</text>
<text x="45.300000000000004" y="329.38000000000005" font-size="8.0" text-anchor="end" textLength="20.2" lengthAdjust="spacingAndGlyphs" stroke="#000" stroke-width="0.1">200K</text>
<text x="45.300000000000004" y="345.06000000000006" font-size="8.0" text-anchor="end" textLength="20.2" lengthAdjust="spacingAndGlyphs" stroke="#000" stroke-width="0.1">150K</text>
<text x="45.300000000000004" y="360.74000000000007" font-size="8.0" text-anchor="end" textLength="20.2" lengthAdjust="spacingAndGlyphs" stroke="#000" stroke-width="0.1">100K</text>
<text x="45.300000000000004" y="376.4200000000001" font-size="8.0" text-anchor="end" textLength="15.0" lengthAdjust="spacingAndGlyphs" stroke="#000" stroke-width="0.1">50K</text>
<text x="45.300000000000004" y="392.1" font-size="8.0" text-anchor="end" textLength="4.4" lengthAdjust="spacingAndGlyphs" stroke="#000" stroke-width="0.1">0</text>
<rect x="143.95" y="307.20000000000005" width="83.60000000000001" height="83.3" fill="none" stroke="#000" stroke-width="1.7"/>
<path d="M140.50 307.71H143.1 M139.70 310.85H143.1 M140.50 313.99H143.1 M140.50 317.12H143.1 M140.50 320.26H143.1 M140.50 323.39H143.1 M139.70 326.53H143.1 M140.50 329.67H143.1 M140.50 332.80H143.1 M140.50 335.94H143.1 M140.50 339.07H143.1 M139.70 342.21H143.1 M140.50 345.35H143.1 M140.50 348.48H143.1 M140.50 351.62H143.1 M140.50 354.75H143.1 M139.70 357.89H143.1 M140.50 361.03H143.1 M140.50 364.16H143.1 M140.50 367.30H143.1 M140.50 370.43H143.1 M139.70 373.57H143.1 M140.50 376.71H143.1 M140.50 379.84H143.1 M140.50 382.98H143.1 M140.50 386.11H143.1 M139.70 389.25H143.1" stroke="#000" stroke-width="1.1"/>
<path d="M148.60 391.35V395.65 M161.10 391.35V395.65 M176.10 391.35V395.65 M199.10 391.35V395.65 M219.10 391.35V395.65 M152.10 391.35V393.95 M155.10 391.35V393.95 M158.10 391.35V393.95 M165.10 391.35V393.95 M169.10 391.35V393.95 M172.10 391.35V393.95 M174.10 391.35V393.95 M175.10 391.35V393.95 M183.02 391.35V393.95 M187.07 391.35V393.95 M189.95 391.35V393.95 M192.18 391.35V393.95 M194.00 391.35V393.95 M195.54 391.35V393.95 M196.87 391.35V393.95 M198.05 391.35V393.95 M205.12 391.35V393.95 M208.64 391.35V393.95 M211.14 391.35V393.95 M213.08 391.35V393.95 M214.66 391.35V393.95 M216.00 391.35V393.95 M217.16 391.35V393.95 M218.18 391.35V393.95 M225.12 391.35V393.95" stroke="#000" stroke-width="1.0"/>
<path d="M171.5 390.35V309.95000000000005H225.8V390.35" fill="none" stroke="#000" stroke-width="1.0"/>
<text x="222.1" y="381.2" font-size="12.2" text-anchor="end" textLength="25.3" lengthAdjust="spacingAndGlyphs" stroke="#000" stroke-width="0.25">1.37</text>
<rect x="235.85" y="307.20000000000005" width="83.19999999999997" height="83.3" fill="none" stroke="#000" stroke-width="1.7"/>
<path d="M232.40 307.71H235.0 M231.60 310.85H235.0 M232.40 313.99H235.0 M232.40 317.12H235.0 M232.40 320.26H235.0 M232.40 323.39H235.0 M231.60 326.53H235.0 M232.40 329.67H235.0 M232.40 332.80H235.0 M232.40 335.94H235.0 M232.40 339.07H235.0 M231.60 342.21H235.0 M232.40 345.35H235.0 M232.40 348.48H235.0 M232.40 351.62H235.0 M232.40 354.75H235.0 M231.60 357.89H235.0 M232.40 361.03H235.0 M232.40 364.16H235.0 M232.40 367.30H235.0 M232.40 370.43H235.0 M231.60 373.57H235.0 M232.40 376.71H235.0 M232.40 379.84H235.0 M232.40 382.98H235.0 M232.40 386.11H235.0 M231.60 389.25H235.0" stroke="#000" stroke-width="1.1"/>
<path d="M240.50 391.35V395.65 M253.00 391.35V395.65 M268.00 391.35V395.65 M291.00 391.35V395.65 M311.00 391.35V395.65 M244.00 391.35V393.95 M247.00 391.35V393.95 M250.00 391.35V393.95 M257.00 391.35V393.95 M261.00 391.35V393.95 M264.00 391.35V393.95 M266.00 391.35V393.95 M267.00 391.35V393.95 M274.92 391.35V393.95 M278.97 391.35V393.95 M281.85 391.35V393.95 M284.08 391.35V393.95 M285.90 391.35V393.95 M287.44 391.35V393.95 M288.77 391.35V393.95 M289.95 391.35V393.95 M297.02 391.35V393.95 M300.54 391.35V393.95 M303.04 391.35V393.95 M304.98 391.35V393.95 M306.56 391.35V393.95 M307.90 391.35V393.95 M309.06 391.35V393.95 M310.08 391.35V393.95 M317.02 391.35V393.95" stroke="#000" stroke-width="1.0"/>
<path d="M263.3 390.35V309.95000000000005H317.29999999999995V390.35" fill="none" stroke="#000" stroke-width="1.0"/>
<text x="314.9" y="381.2" font-size="12.2" text-anchor="end" textLength="25.3" lengthAdjust="spacingAndGlyphs" stroke="#000" stroke-width="0.25">1.40</text>
<text transform="translate(20.0,315.8) rotate(-90)" font-size="12.2" stroke="#000" stroke-width="0.35" textLength="24.0" lengthAdjust="spacingAndGlyphs">SSC-A</text>
<line x1="18.5" y1="405.5" x2="18.5" y2="352" stroke="#000" stroke-width="1.3"/>
<path d="M18.5 348.0 L15.2 359.3 L21.8 359.3 Z" fill="#000"/>
<line x1="17.85" y1="404.9" x2="131" y2="404.9" stroke="#000" stroke-width="1.3"/>
<path d="M140.0 404.9 L128.6 401.7 L128.6 408.1 Z" fill="#000"/>
<text x="164.5" y="410.4" font-size="11.3" stroke="#000" stroke-width="0.35" textLength="42.3" lengthAdjust="spacingAndGlyphs">CD14 (log)</text>
<text x="418.0" y="208.5" font-size="12.0" textLength="43.2" lengthAdjust="spacingAndGlyphs">CD14+</text>
<text transform="translate(340.3,307.9) rotate(-90)" font-size="11.3" stroke="#000" stroke-width="0.25" textLength="61.8" lengthAdjust="spacingAndGlyphs">Percentage (%)</text>
<line x1="368.2" y1="223.0" x2="368.2" y2="331.1" stroke="#000" stroke-width="1.4"/>
<line x1="367.6" y1="330.5" x2="510.3" y2="330.5" stroke="#000" stroke-width="1.4"/>
<line x1="363.6" y1="330.5" x2="368.2" y2="330.5" stroke="#000" stroke-width="1.2"/>
<text x="360.7" y="334.5" font-size="10.0" text-anchor="end">0</text>
<line x1="363.6" y1="303.75" x2="368.2" y2="303.75" stroke="#000" stroke-width="1.2"/>
<text x="360.7" y="307.75" font-size="10.0" text-anchor="end" textLength="12.2" lengthAdjust="spacingAndGlyphs">10</text>
<line x1="363.6" y1="277.0" x2="368.2" y2="277.0" stroke="#000" stroke-width="1.2"/>
<text x="360.7" y="281.0" font-size="10.0" text-anchor="end" textLength="12.2" lengthAdjust="spacingAndGlyphs">20</text>
<line x1="363.6" y1="250.25" x2="368.2" y2="250.25" stroke="#000" stroke-width="1.2"/>
<text x="360.7" y="254.25" font-size="10.0" text-anchor="end" textLength="12.2" lengthAdjust="spacingAndGlyphs">30</text>
<line x1="363.6" y1="223.5" x2="368.2" y2="223.5" stroke="#000" stroke-width="1.2"/>
<text x="360.7" y="227.5" font-size="10.0" text-anchor="end" textLength="12.2" lengthAdjust="spacingAndGlyphs">40</text>
<line x1="385.8" y1="330.5" x2="385.8" y2="334.8" stroke="#000" stroke-width="1.2"/>
<line x1="439.3" y1="330.5" x2="439.3" y2="334.8" stroke="#000" stroke-width="1.2"/>
<line x1="492.0" y1="330.5" x2="492.0" y2="334.8" stroke="#000" stroke-width="1.2"/>
<line x1="372.8" y1="311.3" x2="383.1" y2="311.3" stroke="#cc0a1e" stroke-width="1.1"/>
<line x1="424.6" y1="251.6" x2="434.7" y2="251.6" stroke="#cc0a1e" stroke-width="1.1"/>
<line x1="475.9" y1="275.1666666666667" x2="486.0" y2="275.1666666666667" stroke="#cc0a1e" stroke-width="1.1"/>
<line x1="392.0" y1="325.8333333333333" x2="402.7" y2="325.8333333333333" stroke="#0b35b0" stroke-width="1.1"/>
<line x1="443.9" y1="326.2666666666667" x2="454.0" y2="326.2666666666667" stroke="#0b35b0" stroke-width="1.1"/>
<line x1="495.6" y1="326.6" x2="505.7" y2="326.6" stroke="#0b35b0" stroke-width="1.1"/>
<circle cx="374.30" cy="311.30" r="2.6" fill="none" stroke="#cc0a1e" stroke-width="1.55"/>
<circle cx="378.30" cy="311.30" r="2.6" fill="none" stroke="#cc0a1e" stroke-width="1.55"/>
<circle cx="381.60" cy="311.30" r="2.6" fill="none" stroke="#cc0a1e" stroke-width="1.55"/>
<circle cx="426.10" cy="248.50" r="2.6" fill="none" stroke="#cc0a1e" stroke-width="1.55"/>
<circle cx="426.10" cy="255.20" r="2.6" fill="none" stroke="#cc0a1e" stroke-width="1.55"/>
<circle cx="433.20" cy="251.10" r="2.6" fill="none" stroke="#cc0a1e" stroke-width="1.55"/>
<circle cx="477.40" cy="276.90" r="2.6" fill="none" stroke="#cc0a1e" stroke-width="1.55"/>
<circle cx="480.90" cy="273.80" r="2.6" fill="none" stroke="#cc0a1e" stroke-width="1.55"/>
<circle cx="484.50" cy="274.80" r="2.6" fill="none" stroke="#cc0a1e" stroke-width="1.55"/>
<circle cx="393.50" cy="326.50" r="2.6" fill="none" stroke="#0b35b0" stroke-width="1.55"/>
<circle cx="397.60" cy="324.50" r="2.6" fill="none" stroke="#0b35b0" stroke-width="1.55"/>
<circle cx="401.20" cy="326.50" r="2.6" fill="none" stroke="#0b35b0" stroke-width="1.55"/>
<circle cx="445.40" cy="326.60" r="2.6" fill="none" stroke="#0b35b0" stroke-width="1.55"/>
<circle cx="448.80" cy="325.60" r="2.6" fill="none" stroke="#0b35b0" stroke-width="1.55"/>
<circle cx="452.50" cy="326.60" r="2.6" fill="none" stroke="#0b35b0" stroke-width="1.55"/>
<circle cx="497.10" cy="326.60" r="2.6" fill="none" stroke="#0b35b0" stroke-width="1.55"/>
<circle cx="500.70" cy="326.60" r="2.6" fill="none" stroke="#0b35b0" stroke-width="1.55"/>
<circle cx="504.20" cy="326.60" r="2.6" fill="none" stroke="#0b35b0" stroke-width="1.55"/>
<line x1="376.9" y1="301.2" x2="398.6" y2="301.2" stroke="#000" stroke-width="1.3"/>
<line x1="429.1" y1="239.3" x2="451.4" y2="239.3" stroke="#000" stroke-width="1.3"/>
<line x1="480.5" y1="263.7" x2="502.8" y2="263.7" stroke="#000" stroke-width="1.3"/>
<path d="M383.40 293.55 L383.99 294.59 L385.16 294.83 L384.35 295.71 L384.49 296.90 L383.40 296.40 L382.31 296.90 L382.45 295.71 L381.64 294.83 L382.81 294.59Z M387.60 293.55 L388.19 294.59 L389.36 294.83 L388.55 295.71 L388.69 296.90 L387.60 296.40 L386.51 296.90 L386.65 295.71 L385.84 294.83 L387.01 294.59Z M391.80 293.55 L392.39 294.59 L393.56 294.83 L392.75 295.71 L392.89 296.90 L391.80 296.40 L390.71 296.90 L390.85 295.71 L390.04 294.83 L391.21 294.59Z" fill="#000" stroke="#000" stroke-width="0.35" stroke-linejoin="round"/>
<path d="M436.10 231.55 L436.69 232.59 L437.86 232.83 L437.05 233.71 L437.19 234.90 L436.10 234.40 L435.01 234.90 L435.15 233.71 L434.34 232.83 L435.51 232.59Z M440.30 231.55 L440.89 232.59 L442.06 232.83 L441.25 233.71 L441.39 234.90 L440.30 234.40 L439.21 234.90 L439.35 233.71 L438.54 232.83 L439.71 232.59Z M444.50 231.55 L445.09 232.59 L446.26 232.83 L445.45 233.71 L445.59 234.90 L444.50 234.40 L443.41 234.90 L443.55 233.71 L442.74 232.83 L443.91 232.59Z" fill="#000" stroke="#000" stroke-width="0.35" stroke-linejoin="round"/>
<path d="M487.70 255.95 L488.29 256.99 L489.46 257.23 L488.65 258.11 L488.79 259.30 L487.70 258.80 L486.61 259.30 L486.75 258.11 L485.94 257.23 L487.11 256.99Z M491.90 255.95 L492.49 256.99 L493.66 257.23 L492.85 258.11 L492.99 259.30 L491.90 258.80 L490.81 259.30 L490.95 258.11 L490.14 257.23 L491.31 256.99Z M496.10 255.95 L496.69 256.99 L497.86 257.23 L497.05 258.11 L497.19 259.30 L496.10 258.80 L495.01 259.30 L495.15 258.11 L494.34 257.23 L495.51 256.99Z" fill="#000" stroke="#000" stroke-width="0.35" stroke-linejoin="round"/>
<text x="386.0" y="346.9" font-size="10.6" text-anchor="middle">sg<tspan dx="0.9" font-style="italic" stroke="#000" stroke-width="0.18">Luc</tspan></text>
<text x="440.0" y="346.9" font-size="10.6" text-anchor="middle">e2.1</text>
<text x="491.6" y="346.9" font-size="10.6" text-anchor="middle">e5.1</text>
<line x1="431.5" y1="352.8" x2="500.8" y2="352.8" stroke="#000" stroke-width="1.3"/>
<text x="466.0" y="366.0" font-size="10.6" text-anchor="middle">sg<tspan font-style="italic" stroke="#000" stroke-width="0.18">MEF2D</tspan></text>
<rect x="334.9" y="380.5" width="89" height="35.2" fill="none" stroke="#000" stroke-width="1.35"/>
<rect x="344.0" y="388.1" width="8.6" height="8.2" fill="#e96fbc"/>
<rect x="344.0" y="401.9" width="8.6" height="8.3" fill="#86bdd9"/>
<text x="356.0" y="395.8" font-size="10.2" textLength="32.6" lengthAdjust="spacingAndGlyphs">CEBPE</text>
<text x="388.7" y="392.7" font-size="7.0" textLength="9.0" lengthAdjust="spacingAndGlyphs">WT</text>
<text x="356.0" y="409.6" font-size="10.2" textLength="32.6" lengthAdjust="spacingAndGlyphs">CEBPE</text>
<text x="388.7" y="406.5" font-size="7.0" textLength="9.6" lengthAdjust="spacingAndGlyphs">KO</text>
<text x="398.8" y="409.6" font-size="10.2" textLength="16.8" lengthAdjust="spacingAndGlyphs">(#1)</text>
<text x="95.2" y="447.9" font-size="12" textLength="32.9" lengthAdjust="spacingAndGlyphs">CD33</text>
<text x="128.6" y="444.0" font-size="6.8" textLength="15.0" lengthAdjust="spacingAndGlyphs">High</text>
<text transform="translate(19.6,548.3) rotate(-90)" font-size="11.3" stroke="#000" stroke-width="0.25" textLength="61.5" lengthAdjust="spacingAndGlyphs">Percentage (%)</text>
<line x1="49.3" y1="463.5" x2="49.3" y2="570.7" stroke="#000" stroke-width="1.4"/>
<line x1="48.7" y1="570.1" x2="189.3" y2="570.1" stroke="#000" stroke-width="1.4"/>
<line x1="44.7" y1="570.1" x2="49.3" y2="570.1" stroke="#000" stroke-width="1.2"/>
<text x="40.4" y="574.1" font-size="10.0" text-anchor="end">0</text>
<line x1="44.7" y1="543.7" x2="49.3" y2="543.7" stroke="#000" stroke-width="1.2"/>
<text x="40.4" y="547.7" font-size="10.0" text-anchor="end" textLength="12.2" lengthAdjust="spacingAndGlyphs">10</text>
<line x1="44.7" y1="517.3000000000001" x2="49.3" y2="517.3000000000001" stroke="#000" stroke-width="1.2"/>
<text x="40.4" y="521.3000000000001" font-size="10.0" text-anchor="end" textLength="12.2" lengthAdjust="spacingAndGlyphs">20</text>
<line x1="44.7" y1="490.90000000000003" x2="49.3" y2="490.90000000000003" stroke="#000" stroke-width="1.2"/>
<text x="40.4" y="494.90000000000003" font-size="10.0" text-anchor="end" textLength="12.2" lengthAdjust="spacingAndGlyphs">30</text>
<line x1="44.7" y1="464.5" x2="49.3" y2="464.5" stroke="#000" stroke-width="1.2"/>
<text x="40.4" y="468.5" font-size="10.0" text-anchor="end" textLength="12.2" lengthAdjust="spacingAndGlyphs">40</text>
<line x1="66.5" y1="570.1" x2="66.5" y2="574.4" stroke="#000" stroke-width="1.2"/>
<line x1="119.9" y1="570.1" x2="119.9" y2="574.4" stroke="#000" stroke-width="1.2"/>
<line x1="172.7" y1="570.1" x2="172.7" y2="574.4" stroke="#000" stroke-width="1.2"/>
<line x1="53.2" y1="553.3000000000001" x2="63.5" y2="553.3000000000001" stroke="#cc0a1e" stroke-width="1.1"/>
<line x1="104.2" y1="495.23333333333335" x2="114.3" y2="495.23333333333335" stroke="#cc0a1e" stroke-width="1.1"/>
<line x1="155.3" y1="519.0333333333333" x2="165.5" y2="519.0333333333333" stroke="#cc0a1e" stroke-width="1.1"/>
<line x1="72.7" y1="555.9666666666667" x2="82.8" y2="555.9666666666667" stroke="#0b35b0" stroke-width="1.1"/>
<line x1="123.5" y1="525.0666666666667" x2="133.4" y2="525.0666666666667" stroke="#0b35b0" stroke-width="1.1"/>
<line x1="174.6" y1="539.8" x2="184.7" y2="539.8" stroke="#0b35b0" stroke-width="1.1"/>
<circle cx="54.70" cy="554.30" r="2.6" fill="none" stroke="#cc0a1e" stroke-width="1.55"/>
<circle cx="58.40" cy="552.70" r="2.6" fill="none" stroke="#cc0a1e" stroke-width="1.55"/>
<circle cx="62.00" cy="552.90" r="2.6" fill="none" stroke="#cc0a1e" stroke-width="1.55"/>
<circle cx="105.70" cy="492.00" r="2.6" fill="none" stroke="#cc0a1e" stroke-width="1.55"/>
<circle cx="112.80" cy="493.60" r="2.6" fill="none" stroke="#cc0a1e" stroke-width="1.55"/>
<circle cx="109.10" cy="500.10" r="2.6" fill="none" stroke="#cc0a1e" stroke-width="1.55"/>
<circle cx="156.80" cy="520.60" r="2.6" fill="none" stroke="#cc0a1e" stroke-width="1.55"/>
<circle cx="160.50" cy="516.90" r="2.6" fill="none" stroke="#cc0a1e" stroke-width="1.55"/>
<circle cx="164.00" cy="519.60" r="2.6" fill="none" stroke="#cc0a1e" stroke-width="1.55"/>
<circle cx="74.20" cy="556.40" r="2.6" fill="none" stroke="#0b35b0" stroke-width="1.55"/>
<circle cx="78.00" cy="555.10" r="2.6" fill="none" stroke="#0b35b0" stroke-width="1.55"/>
<circle cx="81.30" cy="556.40" r="2.6" fill="none" stroke="#0b35b0" stroke-width="1.55"/>
<circle cx="125.00" cy="521.00" r="2.6" fill="none" stroke="#0b35b0" stroke-width="1.55"/>
<circle cx="125.00" cy="527.10" r="2.6" fill="none" stroke="#0b35b0" stroke-width="1.55"/>
<circle cx="131.90" cy="527.10" r="2.6" fill="none" stroke="#0b35b0" stroke-width="1.55"/>
<circle cx="176.10" cy="541.30" r="2.6" fill="none" stroke="#0b35b0" stroke-width="1.55"/>
<circle cx="179.60" cy="537.80" r="2.6" fill="none" stroke="#0b35b0" stroke-width="1.55"/>
<circle cx="183.20" cy="540.30" r="2.6" fill="none" stroke="#0b35b0" stroke-width="1.55"/>
<line x1="58.4" y1="543.2" x2="80.3" y2="543.2" stroke="#000" stroke-width="1.3"/>
<line x1="109.1" y1="480.4" x2="131.1" y2="480.4" stroke="#000" stroke-width="1.3"/>
<line x1="160.3" y1="508.2" x2="182.2" y2="508.2" stroke="#000" stroke-width="1.3"/>
<path d="M69.20 535.35 L69.79 536.39 L70.96 536.63 L70.15 537.51 L70.29 538.70 L69.20 538.20 L68.11 538.70 L68.25 537.51 L67.44 536.63 L68.61 536.39Z" fill="#000" stroke="#000" stroke-width="0.35" stroke-linejoin="round"/>
<path d="M116.10 472.45 L116.69 473.49 L117.86 473.73 L117.05 474.61 L117.19 475.80 L116.10 475.30 L115.01 475.80 L115.15 474.61 L114.34 473.73 L115.51 473.49Z M120.30 472.45 L120.89 473.49 L122.06 473.73 L121.25 474.61 L121.39 475.80 L120.30 475.30 L119.21 475.80 L119.35 474.61 L118.54 473.73 L119.71 473.49Z M124.50 472.45 L125.09 473.49 L126.26 473.73 L125.45 474.61 L125.59 475.80 L124.50 475.30 L123.41 475.80 L123.55 474.61 L122.74 473.73 L123.91 473.49Z" fill="#000" stroke="#000" stroke-width="0.35" stroke-linejoin="round"/>
<path d="M166.90 500.25 L167.49 501.29 L168.66 501.53 L167.85 502.41 L167.99 503.60 L166.90 503.10 L165.81 503.60 L165.95 502.41 L165.14 501.53 L166.31 501.29Z M171.10 500.25 L171.69 501.29 L172.86 501.53 L172.05 502.41 L172.19 503.60 L171.10 503.10 L170.01 503.60 L170.15 502.41 L169.34 501.53 L170.51 501.29Z M175.30 500.25 L175.89 501.29 L177.06 501.53 L176.25 502.41 L176.39 503.60 L175.30 503.10 L174.21 503.60 L174.35 502.41 L173.54 501.53 L174.71 501.29Z" fill="#000" stroke="#000" stroke-width="0.35" stroke-linejoin="round"/>
<text x="67.3" y="587.3" font-size="10.6" text-anchor="middle">sg<tspan dx="0.9" font-style="italic" stroke="#000" stroke-width="0.18">Luc</tspan></text>
<text x="120.0" y="587.3" font-size="10.6" text-anchor="middle">e2.1</text>
<text x="171.3" y="587.3" font-size="10.6" text-anchor="middle">e5.1</text>
<line x1="111.5" y1="590.6" x2="180.8" y2="590.6" stroke="#000" stroke-width="1.3"/>
<text x="146.2" y="604.0" font-size="10.6" text-anchor="middle">sg<tspan font-style="italic" stroke="#000" stroke-width="0.18">MEF2D</tspan></text>
<line x1="231.6" y1="463.9" x2="231.6" y2="570.7" stroke="#000" stroke-width="1.4"/>
<line x1="226.9" y1="570.1" x2="231.6" y2="570.1" stroke="#000" stroke-width="1.2"/>
<text x="223.8" y="574.1" font-size="10.0" text-anchor="end">0</text>
<line x1="226.9" y1="548.98" x2="231.6" y2="548.98" stroke="#000" stroke-width="1.2"/>
<text x="223.8" y="552.98" font-size="10.0" text-anchor="end">1</text>
<line x1="226.9" y1="527.86" x2="231.6" y2="527.86" stroke="#000" stroke-width="1.2"/>
<text x="223.8" y="531.86" font-size="10.0" text-anchor="end">2</text>
<line x1="226.9" y1="506.74" x2="231.6" y2="506.74" stroke="#000" stroke-width="1.2"/>
<text x="223.8" y="510.74" font-size="10.0" text-anchor="end">3</text>
<line x1="226.9" y1="485.62" x2="231.6" y2="485.62" stroke="#000" stroke-width="1.2"/>
<text x="223.8" y="489.62" font-size="10.0" text-anchor="end">4</text>
<line x1="226.9" y1="464.5" x2="231.6" y2="464.5" stroke="#000" stroke-width="1.2"/>
<text x="223.8" y="468.5" font-size="10.0" text-anchor="end">5</text>
<rect x="234.3" y="550.2472" width="9.8" height="19.85" fill="#e96fbc"/>
<rect x="251.0" y="568.4104" width="9.8" height="1.69" fill="#86bdd9"/>
<rect x="277.4" y="482.24080000000004" width="9.8" height="87.86" fill="#e96fbc"/>
<rect x="293.4" y="554.26" width="9.8" height="15.84" fill="#86bdd9"/>
<rect x="320.1" y="509.69680000000005" width="9.8" height="60.4" fill="#e96fbc"/>
<rect x="336.4" y="564.1864" width="9.8" height="5.91" fill="#86bdd9"/>
<line x1="231.0" y1="570.1" x2="350.0" y2="570.1" stroke="#000" stroke-width="1.4"/>
<line x1="247.4" y1="570.1" x2="247.4" y2="574.4" stroke="#000" stroke-width="1.2"/>
<line x1="290.3" y1="570.1" x2="290.3" y2="574.4" stroke="#000" stroke-width="1.2"/>
<line x1="333.3" y1="570.1" x2="333.3" y2="574.4" stroke="#000" stroke-width="1.2"/>
<circle cx="236.90" cy="549.50" r="2.6" fill="none" stroke="#cc0a1e" stroke-width="1.6"/>
<circle cx="239.30" cy="549.00" r="2.6" fill="none" stroke="#cc0a1e" stroke-width="1.6"/>
<circle cx="241.70" cy="549.50" r="2.6" fill="none" stroke="#cc0a1e" stroke-width="1.6"/>
<circle cx="253.40" cy="568.00" r="2.6" fill="none" stroke="#0b35b0" stroke-width="1.6"/>
<circle cx="255.90" cy="567.70" r="2.6" fill="none" stroke="#0b35b0" stroke-width="1.6"/>
<circle cx="258.40" cy="568.00" r="2.6" fill="none" stroke="#0b35b0" stroke-width="1.6"/>
<circle cx="280.00" cy="481.60" r="2.6" fill="none" stroke="#cc0a1e" stroke-width="1.6"/>
<circle cx="282.40" cy="481.00" r="2.6" fill="none" stroke="#cc0a1e" stroke-width="1.6"/>
<circle cx="284.90" cy="481.40" r="2.6" fill="none" stroke="#cc0a1e" stroke-width="1.6"/>
<circle cx="295.90" cy="553.00" r="2.6" fill="none" stroke="#0b35b0" stroke-width="1.6"/>
<circle cx="298.30" cy="552.20" r="2.6" fill="none" stroke="#0b35b0" stroke-width="1.6"/>
<circle cx="300.60" cy="553.00" r="2.6" fill="none" stroke="#0b35b0" stroke-width="1.6"/>
<circle cx="322.40" cy="508.60" r="2.6" fill="none" stroke="#cc0a1e" stroke-width="1.6"/>
<circle cx="325.00" cy="503.20" r="2.6" fill="none" stroke="#cc0a1e" stroke-width="1.6"/>
<circle cx="328.00" cy="508.30" r="2.6" fill="none" stroke="#cc0a1e" stroke-width="1.6"/>
<circle cx="339.00" cy="563.00" r="2.6" fill="none" stroke="#0b35b0" stroke-width="1.6"/>
<circle cx="341.40" cy="562.20" r="2.6" fill="none" stroke="#0b35b0" stroke-width="1.6"/>
<circle cx="344.00" cy="562.40" r="2.6" fill="none" stroke="#0b35b0" stroke-width="1.6"/>
<line x1="235.8" y1="538.7" x2="258.1" y2="538.7" stroke="#000" stroke-width="1.3"/>
<path d="M242.75 530.55 L243.34 531.59 L244.51 531.83 L243.70 532.71 L243.84 533.90 L242.75 533.40 L241.66 533.90 L241.80 532.71 L240.99 531.83 L242.16 531.59Z M246.95 530.55 L247.54 531.59 L248.71 531.83 L247.90 532.71 L248.04 533.90 L246.95 533.40 L245.86 533.90 L246.00 532.71 L245.19 531.83 L246.36 531.59Z M251.15 530.55 L251.74 531.59 L252.91 531.83 L252.10 532.71 L252.24 533.90 L251.15 533.40 L250.06 533.90 L250.20 532.71 L249.39 531.83 L250.56 531.59Z" fill="#000" stroke="#000" stroke-width="0.35" stroke-linejoin="round"/>
<line x1="277.4" y1="471.6" x2="299.1" y2="471.6" stroke="#000" stroke-width="1.3"/>
<path d="M284.05 463.45 L284.64 464.49 L285.81 464.73 L285.00 465.61 L285.14 466.80 L284.05 466.30 L282.96 466.80 L283.10 465.61 L282.29 464.73 L283.46 464.49Z M288.25 463.45 L288.84 464.49 L290.01 464.73 L289.20 465.61 L289.34 466.80 L288.25 466.30 L287.16 466.80 L287.30 465.61 L286.49 464.73 L287.66 464.49Z M292.45 463.45 L293.04 464.49 L294.21 464.73 L293.40 465.61 L293.54 466.80 L292.45 466.30 L291.36 466.80 L291.50 465.61 L290.69 464.73 L291.86 464.49Z" fill="#000" stroke="#000" stroke-width="0.35" stroke-linejoin="round"/>
<line x1="321.2" y1="495.1" x2="342.8" y2="495.1" stroke="#000" stroke-width="1.3"/>
<path d="M327.80 486.95 L328.39 487.99 L329.56 488.23 L328.75 489.11 L328.89 490.30 L327.80 489.80 L326.71 490.30 L326.85 489.11 L326.04 488.23 L327.21 487.99Z M332.00 486.95 L332.59 487.99 L333.76 488.23 L332.95 489.11 L333.09 490.30 L332.00 489.80 L330.91 490.30 L331.05 489.11 L330.24 488.23 L331.41 487.99Z M336.20 486.95 L336.79 487.99 L337.96 488.23 L337.15 489.11 L337.29 490.30 L336.20 489.80 L335.11 490.30 L335.25 489.11 L334.44 488.23 L335.61 487.99Z" fill="#000" stroke="#000" stroke-width="0.35" stroke-linejoin="round"/>
<text x="247.5" y="587.3" font-size="10.6" text-anchor="middle">sg<tspan dx="0.9" font-style="italic" stroke="#000" stroke-width="0.18">Luc</tspan></text>
<text x="290.0" y="587.3" font-size="10.6" text-anchor="middle">e2.1</text>
<text x="333.5" y="587.3" font-size="10.6" text-anchor="middle">e5.1</text>
<line x1="279.0" y1="591.7" x2="348.6" y2="591.7" stroke="#000" stroke-width="1.3"/>
<text x="313.8" y="606.3" font-size="10.6" text-anchor="middle">sg<tspan font-style="italic" stroke="#000" stroke-width="0.18">MEF2D</tspan></text>
<text x="267.9" y="448.5" font-size="12" font-style="italic" textLength="46.0" lengthAdjust="spacingAndGlyphs">S100A8</text>
<text transform="translate(214.1,556.0) rotate(-90)" font-size="12.2" stroke="#000" stroke-width="0.25" textLength="74.5" lengthAdjust="spacingAndGlyphs">Relative expression</text>
<line x1="393.2" y1="464.32" x2="393.2" y2="570.7" stroke="#000" stroke-width="1.4"/>
<line x1="388.5" y1="570.1" x2="393.2" y2="570.1" stroke="#000" stroke-width="1.2"/>
<text x="386.1" y="574.1" font-size="10.0" text-anchor="end">0</text>
<line x1="388.5" y1="535.04" x2="393.2" y2="535.04" stroke="#000" stroke-width="1.2"/>
<text x="386.1" y="539.04" font-size="10.0" text-anchor="end">2</text>
<line x1="388.5" y1="499.98" x2="393.2" y2="499.98" stroke="#000" stroke-width="1.2"/>
<text x="386.1" y="503.98" font-size="10.0" text-anchor="end">4</text>
<line x1="388.5" y1="464.92" x2="393.2" y2="464.92" stroke="#000" stroke-width="1.2"/>
<text x="386.1" y="468.92" font-size="10.0" text-anchor="end">6</text>
<rect x="396.2" y="553.9724" width="9.8" height="16.13" fill="#e96fbc"/>
<rect x="412.8" y="568.6976" width="9.8" height="1.4" fill="#86bdd9"/>
<rect x="439.2" y="490.86440000000005" width="9.8" height="79.24" fill="#e96fbc"/>
<rect x="455.4" y="559.4067" width="9.8" height="10.69" fill="#86bdd9"/>
<rect x="482.0" y="517.1594" width="9.8" height="52.94" fill="#e96fbc"/>
<rect x="497.9" y="566.594" width="9.8" height="3.51" fill="#86bdd9"/>
<line x1="392.59999999999997" y1="570.1" x2="511.1" y2="570.1" stroke="#000" stroke-width="1.4"/>
<line x1="409.0" y1="570.1" x2="409.0" y2="574.4" stroke="#000" stroke-width="1.2"/>
<line x1="451.4" y1="570.1" x2="451.4" y2="574.4" stroke="#000" stroke-width="1.2"/>
<line x1="494.4" y1="570.1" x2="494.4" y2="574.4" stroke="#000" stroke-width="1.2"/>
<circle cx="398.60" cy="553.00" r="2.6" fill="none" stroke="#cc0a1e" stroke-width="1.6"/>
<circle cx="401.00" cy="552.50" r="2.6" fill="none" stroke="#cc0a1e" stroke-width="1.6"/>
<circle cx="403.40" cy="553.00" r="2.6" fill="none" stroke="#cc0a1e" stroke-width="1.6"/>
<circle cx="414.80" cy="568.50" r="2.6" fill="none" stroke="#0b35b0" stroke-width="1.6"/>
<circle cx="417.20" cy="568.30" r="2.6" fill="none" stroke="#0b35b0" stroke-width="1.6"/>
<circle cx="419.70" cy="568.50" r="2.6" fill="none" stroke="#0b35b0" stroke-width="1.6"/>
<circle cx="440.80" cy="492.10" r="2.6" fill="none" stroke="#cc0a1e" stroke-width="1.6"/>
<circle cx="443.90" cy="489.50" r="2.6" fill="none" stroke="#cc0a1e" stroke-width="1.6"/>
<circle cx="446.90" cy="487.60" r="2.6" fill="none" stroke="#cc0a1e" stroke-width="1.6"/>
<circle cx="457.00" cy="558.80" r="2.6" fill="none" stroke="#0b35b0" stroke-width="1.6"/>
<circle cx="460.50" cy="556.60" r="2.6" fill="none" stroke="#0b35b0" stroke-width="1.6"/>
<circle cx="463.10" cy="557.40" r="2.6" fill="none" stroke="#0b35b0" stroke-width="1.6"/>
<circle cx="483.70" cy="517.50" r="2.6" fill="none" stroke="#cc0a1e" stroke-width="1.6"/>
<circle cx="486.70" cy="510.40" r="2.6" fill="none" stroke="#cc0a1e" stroke-width="1.6"/>
<circle cx="489.70" cy="515.50" r="2.6" fill="none" stroke="#cc0a1e" stroke-width="1.6"/>
<circle cx="500.30" cy="564.60" r="2.6" fill="none" stroke="#0b35b0" stroke-width="1.6"/>
<circle cx="503.00" cy="564.30" r="2.6" fill="none" stroke="#0b35b0" stroke-width="1.6"/>
<circle cx="505.60" cy="564.60" r="2.6" fill="none" stroke="#0b35b0" stroke-width="1.6"/>
<line x1="398.2" y1="544.2" x2="420.1" y2="544.2" stroke="#000" stroke-width="1.3"/>
<path d="M404.95 536.05 L405.54 537.09 L406.71 537.33 L405.90 538.21 L406.04 539.40 L404.95 538.90 L403.86 539.40 L404.00 538.21 L403.19 537.33 L404.36 537.09Z M409.15 536.05 L409.74 537.09 L410.91 537.33 L410.10 538.21 L410.24 539.40 L409.15 538.90 L408.06 539.40 L408.20 538.21 L407.39 537.33 L408.56 537.09Z M413.35 536.05 L413.94 537.09 L415.11 537.33 L414.30 538.21 L414.44 539.40 L413.35 538.90 L412.26 539.40 L412.40 538.21 L411.59 537.33 L412.76 537.09Z" fill="#000" stroke="#000" stroke-width="0.35" stroke-linejoin="round"/>
<line x1="439.2" y1="480.3" x2="461.1" y2="480.3" stroke="#000" stroke-width="1.3"/>
<path d="M445.95 472.15 L446.54 473.19 L447.71 473.43 L446.90 474.31 L447.04 475.50 L445.95 475.00 L444.86 475.50 L445.00 474.31 L444.19 473.43 L445.36 473.19Z M450.15 472.15 L450.74 473.19 L451.91 473.43 L451.10 474.31 L451.24 475.50 L450.15 475.00 L449.06 475.50 L449.20 474.31 L448.39 473.43 L449.56 473.19Z M454.35 472.15 L454.94 473.19 L456.11 473.43 L455.30 474.31 L455.44 475.50 L454.35 475.00 L453.26 475.50 L453.40 474.31 L452.59 473.43 L453.76 473.19Z" fill="#000" stroke="#000" stroke-width="0.35" stroke-linejoin="round"/>
<line x1="481.2" y1="504.3" x2="503.4" y2="504.3" stroke="#000" stroke-width="1.3"/>
<path d="M488.10 496.15 L488.69 497.19 L489.86 497.43 L489.05 498.31 L489.19 499.50 L488.10 499.00 L487.01 499.50 L487.15 498.31 L486.34 497.43 L487.51 497.19Z M492.30 496.15 L492.89 497.19 L494.06 497.43 L493.25 498.31 L493.39 499.50 L492.30 499.00 L491.21 499.50 L491.35 498.31 L490.54 497.43 L491.71 497.19Z M496.50 496.15 L497.09 497.19 L498.26 497.43 L497.45 498.31 L497.59 499.50 L496.50 499.00 L495.41 499.50 L495.55 498.31 L494.74 497.43 L495.91 497.19Z" fill="#000" stroke="#000" stroke-width="0.35" stroke-linejoin="round"/>
<text x="409.0" y="587.3" font-size="10.6" text-anchor="middle">sg<tspan dx="0.9" font-style="italic" stroke="#000" stroke-width="0.18">Luc</tspan></text>
<text x="451.0" y="587.3" font-size="10.6" text-anchor="middle">e2.1</text>
<text x="494.1" y="587.3" font-size="10.6" text-anchor="middle">e5.1</text>
<line x1="439.2" y1="591.7" x2="508.9" y2="591.7" stroke="#000" stroke-width="1.3"/>
<text x="474.04999999999995" y="606.3" font-size="10.6" text-anchor="middle">sg<tspan font-style="italic" stroke="#000" stroke-width="0.18">MEF2D</tspan></text>
<text x="429.1" y="448.5" font-size="12" font-style="italic" textLength="47.2" lengthAdjust="spacingAndGlyphs">S100A9</text>
<text transform="translate(375.0,556.0) rotate(-90)" font-size="12.2" stroke="#000" stroke-width="0.25" textLength="74.5" lengthAdjust="spacingAndGlyphs">Relative expression</text>
</svg>
</body></html>
